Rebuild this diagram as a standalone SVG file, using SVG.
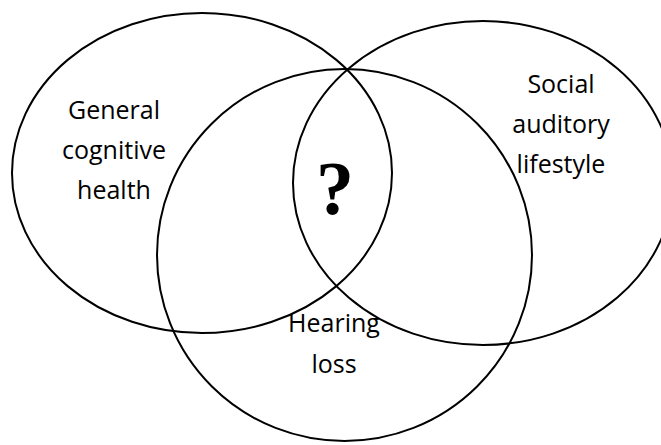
<svg xmlns="http://www.w3.org/2000/svg" width="661" height="445" viewBox="0 0 661 445">
<style>
.c{fill:none;stroke:#000;stroke-width:2}
.t{font-family:"Open Sans","Noto Sans",sans-serif;font-size:25px;fill:#000;text-anchor:middle}
.q{font-family:"Liberation Serif","Times New Roman",serif;font-weight:bold;font-size:76px;fill:#000;text-anchor:middle}
</style>
<rect width="661" height="445" fill="#fff"/>
<g id="general">
<ellipse class="c" cx="202" cy="173" rx="190" ry="160"/>
<text class="t" x="114" y="119">General</text>
<text class="t" x="114" y="159">cognitive</text>
<text class="t" x="114" y="199">health</text>
</g>
<g id="social">
<ellipse class="c" cx="483" cy="183" rx="190" ry="162"/>
<text class="t" x="561" y="93">Social</text>
<text class="t" x="561" y="133">auditory</text>
<text class="t" x="561" y="173">lifestyle</text>
</g>
<g id="hearing">
<ellipse class="c" cx="344.5" cy="255" rx="187.5" ry="186"/>
<text class="t" x="334" y="332">Hearing</text>
<text class="t" x="334" y="373">loss</text>
</g>
<g id="center">
<text class="q" x="335" y="214">?</text>
</g>
<g id="connectors"></g>
</svg>
